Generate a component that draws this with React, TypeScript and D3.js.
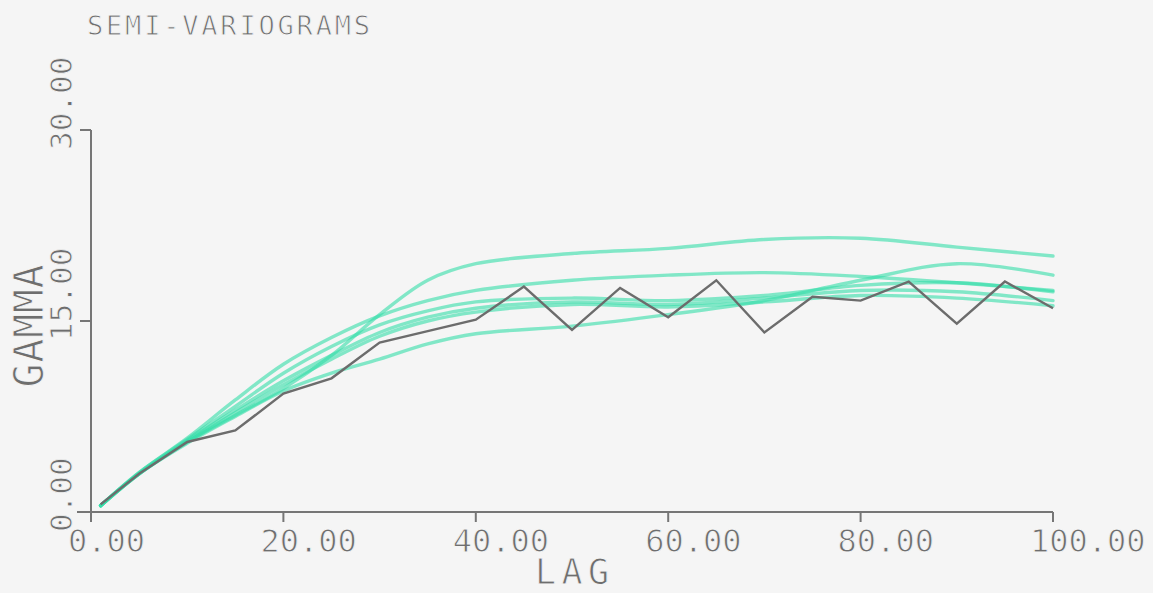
import React from "react";
import * as d3 from "d3";

// ---- data ----
const title = "SEMI-VARIOGRAMS";
const xLabel = "LAG";
const yLabel = "GAMMA";
const xTicks = [0, 20, 40, 60, 80, 100];
const yTicks = [0, 15, 30];

const modelLags = [1, 5, 10, 15, 20, 25, 30, 35, 40, 50, 60, 70, 80, 90, 100];
const modelA = [0.5, 3.0, 5.5, 7.6, 9.7, 12.3, 15.5, 18.2, 19.5, 20.3, 20.7, 21.4, 21.5, 20.8, 20.1];
const modelB = [0.5, 3.1, 5.8, 8.8, 11.6, 13.7, 15.4, 16.6, 17.4, 18.2, 18.6, 18.8, 18.5, 18.0, 17.4];
const modelC = [0.5, 3.0, 5.4, 7.5, 9.5, 10.9, 12.0, 13.2, 14.0, 14.6, 15.5, 16.6, 18.2, 19.5, 18.6];
const modelD = [0.5, 3.1, 5.7, 8.3, 10.9, 13.0, 14.7, 15.8, 16.5, 16.8, 16.6, 17.0, 17.8, 18.0, 17.3];
const modelE = [0.5, 3.0, 5.6, 8.0, 10.3, 12.3, 14.1, 15.3, 16.0, 16.5, 16.3, 16.8, 17.4, 17.3, 16.6];
const modelF = [0.5, 3.0, 5.5, 7.8, 10.0, 12.0, 13.8, 15.0, 15.7, 16.3, 16.1, 16.5, 17.0, 16.8, 16.2];

const sampleLags = [1, 5, 10, 15, 20, 25, 30, 35, 40, 45, 50, 55, 60, 65, 70, 75, 80, 85, 90, 95, 100];
const sampleGamma = [0.6, 3.0, 5.5, 6.4, 9.3, 10.5, 13.3, 14.2, 15.1, 17.7, 14.3, 17.6, 15.3, 18.2, 14.1, 16.9, 16.6, 18.1, 14.8, 18.1, 16.0];

const models = [modelA, modelB, modelC, modelD, modelE, modelF];

export default function App() {
  const W = 1153;
  const H = 593;
  const bg = "#f5f5f5";
  const x = d3.scaleLinear().domain([0, 100]).range([91, 1053]);
  const y = d3.scaleLinear().domain([0, 30]).range([512, 130]);

  const smooth = d3
    .line<[number, number]>()
    .x((d) => x(d[0]))
    .y((d) => y(d[1]))
    .curve(d3.curveCatmullRom.alpha(0.5));
  const straight = d3
    .line<[number, number]>()
    .x((d) => x(d[0]))
    .y((d) => y(d[1]));

  const axisColor = "#767676";
  const textColor = "#6e6e6e";
  const font = "'DejaVu Sans Mono', monospace";
  const thin = { stroke: bg, strokeWidth: 0.9 };

  return (
    <svg
      width={W}
      height={H}
      style={{ position: "absolute", left: 0, top: 0, display: "block" }}
    >
      <rect x={0} y={0} width={W} height={H} fill={bg} />

      {/* title */}
      <text
        x={87}
        y={35}
        fontFamily={font}
        fontSize={27}
        fill={textColor}
        {...thin}
        textLength={283}
        lengthAdjust="spacing"
      >
        {title}
      </text>

      {/* axes */}
      <line x1={x(0)} y1={y(30)} x2={x(0)} y2={y(0) + 10} stroke={axisColor} strokeWidth={2} />
      <line x1={x(0) - 14} y1={y(0)} x2={x(100)} y2={y(0)} stroke={axisColor} strokeWidth={2} />
      {yTicks.map((t) => (
        <line key={"yt" + t} x1={x(0) - 11} x2={x(0)} y1={y(t)} y2={y(t)} stroke={axisColor} strokeWidth={2} />
      ))}
      {xTicks.map((t) => (
        <line key={"xt" + t} x1={x(t)} x2={x(t)} y1={y(0)} y2={y(0) + 10} stroke={axisColor} strokeWidth={2} />
      ))}

      {/* x tick labels */}
      {xTicks.map((t) => (
        <text
          key={"xl" + t}
          x={x(t) - 23}
          y={552}
          fontFamily={font}
          fontSize={32}
          fill={textColor}
          {...thin}
        >
          {t.toFixed(2)}
        </text>
      ))}

      {/* y tick labels */}
      {yTicks.map((t) => (
        <text
          key={"yl" + t}
          transform={`translate(72,${y(t) + 20}) rotate(-90)`}
          fontFamily={font}
          fontSize={31}
          fill={textColor}
          {...thin}
        >
          {t.toFixed(2)}
        </text>
      ))}

      {/* axis titles */}
      <text
        transform={`translate(43,${(y(0) + y(30)) / 2 + 5}) rotate(-90)`}
        textAnchor="middle"
        fontFamily={font}
        fontSize={40}
        fill={textColor}
        {...thin}
        textLength={123}
        lengthAdjust="spacing"
      >
        {yLabel}
      </text>
      <text
        x={(x(0) + x(100)) / 2}
        y={584}
        textAnchor="middle"
        fontFamily={font}
        fontSize={35}
        fill={textColor}
        {...thin}
        textLength={74}
        lengthAdjust="spacing"
      >
        {xLabel}
      </text>

      {/* model curves */}
      <g fill="none" stroke="#33dea9" strokeWidth={3.4} strokeOpacity={0.6} strokeLinecap="round">
        {models.map((m, i) => (
          <path key={"m" + i} d={smooth(modelLags.map((l, j) => [l, m[j]] as [number, number])) || ""} />
        ))}
      </g>

      {/* sample variogram */}
      <path
        d={straight(sampleLags.map((l, j) => [l, sampleGamma[j]] as [number, number])) || ""}
        fill="none"
        stroke="#6c6c6c"
        strokeWidth={2.4}
        strokeLinejoin="miter"
      />
    </svg>
  );
}
